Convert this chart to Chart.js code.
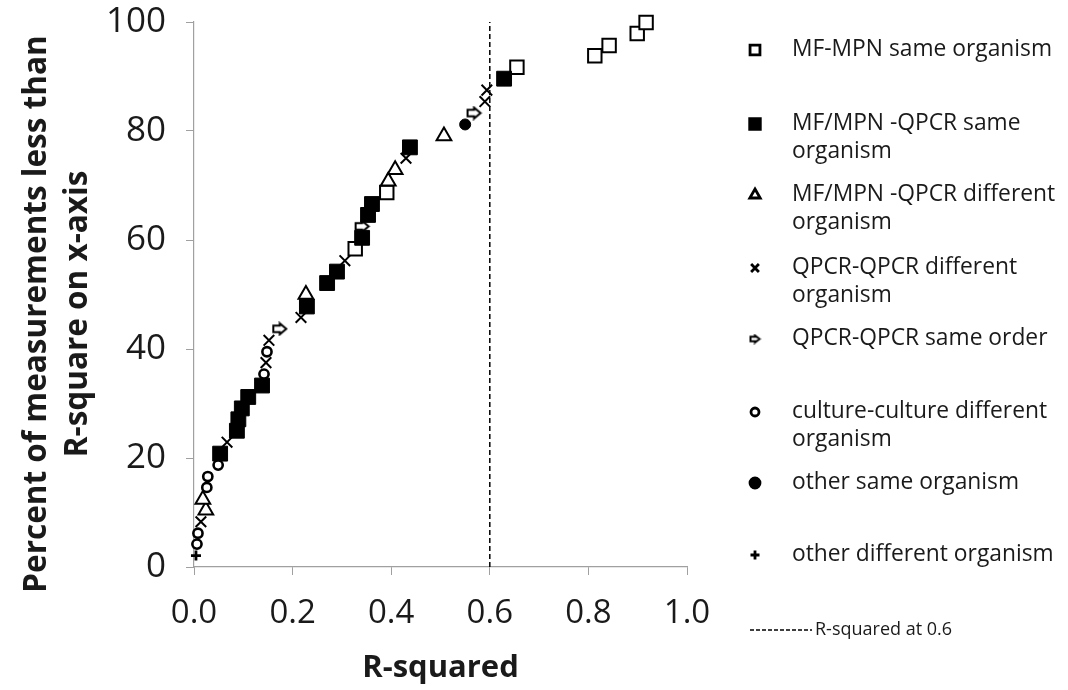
<!DOCTYPE html>
<html>
<head>
<meta charset="utf-8">
<script src="https://cdn.jsdelivr.net/npm/chart.js@4.4.1/dist/chart.umd.min.js"></script>
<style>
  html, body { margin: 0; padding: 0; background: #fff; }
  #wrap { position: relative; width: 1068px; height: 690px; }
</style>
</head>
<body>
<div id="wrap"><canvas id="chart" width="1068" height="690"></canvas></div>
<script>
// series names
const seriesNames = [
    'MF-MPN same organism',
    'MF/MPN -QPCR same organism',
    'MF/MPN -QPCR different organism',
    'QPCR-QPCR different organism',
    'QPCR-QPCR same order',
    'culture-culture different organism',
    'other same organism',
    'other different organism'
];

// R-squared (x) and percent (y)
const mfMpnSameX = [0.327, 0.391, 0.655, 0.813, 0.842, 0.899, 0.917];
const mfMpnSameY = [58.4, 68.7, 91.7, 93.8, 95.7, 97.9, 99.9];

const qpcrSameX = [0.053, 0.087, 0.090, 0.097, 0.110, 0.138, 0.229, 0.270, 0.290, 0.341, 0.353, 0.361, 0.438, 0.629];
const qpcrSameY = [20.8, 25.0, 27.1, 29.1, 31.2, 33.3, 47.8, 52.1, 54.2, 60.4, 64.6, 66.6, 77.0, 89.6];

const qpcrDiffX = [0.024, 0.018, 0.227, 0.394, 0.408, 0.507];
const qpcrDiffY = [10.4, 12.4, 50.0, 70.8, 72.9, 79.1];

const qqDiffX = [0.014, 0.067, 0.146, 0.152, 0.217, 0.306, 0.430, 0.590, 0.594];
const qqDiffY = [8.3, 22.9, 37.5, 41.6, 45.8, 56.2, 75.0, 85.4, 87.5];

const qqOrderX = [0.174, 0.341, 0.568];
const qqOrderY = [43.7, 62.5, 83.3];

const cultureX = [0.006, 0.008, 0.026, 0.028, 0.049, 0.142, 0.148];
const cultureY = [4.2, 6.2, 14.6, 16.6, 18.7, 35.4, 39.5];

const otherSameX = [0.550];
const otherSameY = [81.2];

const otherDiffX = [0.004];
const otherDiffY = [2.1];

const thresholdX = [0.6, 0.6];
const thresholdY = [0, 100];

const xTicks = [0, 0.2, 0.4, 0.6, 0.8, 1.0];
const yTicks = [0, 20, 40, 60, 80, 100];

function pts(xs, ys) {
    return xs.map((x, i) => ({ x: x, y: ys[i] }));
}

// hollow right arrow marker
function makeArrow(w, h, lw) {
    const c = document.createElement('canvas');
    c.width = w; c.height = h;
    const g = c.getContext('2d');
    const m = lw;
    const midY = h / 2;
    const shaftH = h * 0.42;
    const headX = w * 0.5;
    g.beginPath();
    g.moveTo(m, midY - shaftH / 2);
    g.lineTo(headX, midY - shaftH / 2);
    g.lineTo(headX, m);
    g.lineTo(w - m, midY);
    g.lineTo(headX, h - m);
    g.lineTo(headX, midY + shaftH / 2);
    g.lineTo(m, midY + shaftH / 2);
    g.closePath();
    g.fillStyle = '#fff';
    g.fill();
    g.lineWidth = lw;
    g.strokeStyle = '#000';
    g.lineJoin = 'miter';
    g.stroke();
    return c;
}

const arrowBig = makeArrow(17, 15, 2);
const arrowSmall = makeArrow(13, 11, 2);

const markerStyles = [
    { pointStyle: 'rect', radius: 9.5, bg: '#fff', bw: 2, lr: 7, lbw: 2 },
    { pointStyle: 'rect', radius: 10.5, bg: '#000', bw: 1, lr: 7.5, lbw: 1 },
    { pointStyle: 'triangle', radius: 8.5, bg: '#fff', bw: 2, lr: 6, lbw: 2 },
    { pointStyle: 'crossRot', radius: 7.5, bg: '#000', bw: 2, lr: 5.5, lbw: 2.4 },
    { pointStyle: arrowBig, legendStyle: arrowSmall, radius: 8, bg: '#fff', bw: 2, lr: 5, lbw: 2 },
    { pointStyle: 'circle', radius: 4.6, bg: '#fff', bw: 2.6, lr: 4, lbw: 2.6 },
    { pointStyle: 'circle', radius: 5.5, bg: '#000', bw: 1, lr: 5, lbw: 1 },
    { pointStyle: 'cross', radius: 5, bg: '#000', bw: 2.8, lr: 4.5, lbw: 2.8 }
];

const seriesData = [
    pts(mfMpnSameX, mfMpnSameY),
    pts(qpcrSameX, qpcrSameY),
    pts(qpcrDiffX, qpcrDiffY),
    pts(qqDiffX, qqDiffY),
    pts(qqOrderX, qqOrderY),
    pts(cultureX, cultureY),
    pts(otherSameX, otherSameY),
    pts(otherDiffX, otherDiffY)
];

const datasets = seriesData.map((d, i) => ({
    label: seriesNames[i],
    data: d,
    pointStyle: markerStyles[i].pointStyle,
    pointRadius: markerStyles[i].radius,
    pointHoverRadius: markerStyles[i].radius,
    pointBackgroundColor: markerStyles[i].bg,
    pointBorderColor: '#000',
    pointBorderWidth: markerStyles[i].bw,
    showLine: false,
    clip: false,
    order: 10 - i
}));

datasets.push({
    label: 'R-squared at 0.6',
    data: pts(thresholdX, thresholdY),
    showLine: true,
    borderColor: '#000',
    borderWidth: 1.5,
    borderDash: [5, 3],
    pointRadius: 0,
    order: 20
});

const FONT = "'Open Sans', sans-serif";
const TXT = '#1a1a1a';

// legend layout (label lines + vertical position of first line)
const legendRows = [
    { lines: ['MF-MPN same organism'], y: 50 },
    { lines: ['MF/MPN -QPCR same', 'organism'], y: 124 },
    { lines: ['MF/MPN -QPCR different', 'organism'], y: 195 },
    { lines: ['QPCR-QPCR different', 'organism'], y: 268 },
    { lines: ['QPCR-QPCR same order'], y: 339 },
    { lines: ['culture-culture different', 'organism'], y: 412 },
    { lines: ['other same organism'], y: 483 },
    { lines: ['other different organism'], y: 555 }
];

const sideLegend = {
    id: 'sideLegend',
    afterDraw(chart) {
        const ctx = chart.ctx;
        ctx.save();
        ctx.font = '22.8px ' + FONT;
        ctx.fillStyle = TXT;
        ctx.textBaseline = 'middle';
        ctx.textAlign = 'left';
        legendRows.forEach((row, i) => {
            const st = markerStyles[i];
            ctx.save();
            ctx.fillStyle = st.bg;
            ctx.strokeStyle = '#000';
            Chart.helpers.drawPoint(ctx, {
                pointStyle: st.legendStyle || st.pointStyle,
                radius: st.lr,
                rotation: 0,
                borderWidth: st.lbw
            }, 755, row.y);
            ctx.restore();
            row.lines.forEach((t, k) => {
                ctx.fillText(t, 792, row.y + k * 28);
            });
        });
        // threshold line entry
        ctx.beginPath();
        ctx.setLineDash([4, 2]);
        ctx.lineWidth = 1.3;
        ctx.strokeStyle = '#000';
        ctx.moveTo(750, 630);
        ctx.lineTo(812, 630);
        ctx.stroke();
        ctx.setLineDash([]);
        ctx.font = '18px ' + FONT;
        ctx.fillText('R-squared at 0.6', 815, 630);
        // y axis title, two rotated lines
        ctx.save();
        ctx.translate(0, 314);
        ctx.rotate(-Math.PI / 2);
        ctx.textAlign = 'center';
        ctx.font = 'bold 31.5px ' + FONT;
        ctx.fillText('Percent of measurements less than', 0, 37);
        ctx.fillText('R-square on x-axis', 0, 78);
        ctx.restore();
        ctx.restore();
    }
};

new Chart(document.getElementById('chart'), {
    type: 'scatter',
    data: { datasets: datasets },
    options: {
        responsive: false,
        animation: false,
        layout: { padding: { top: 22, right: 381, bottom: 3, left: 0 } },
        plugins: {
            legend: { display: false },
            tooltip: { enabled: false }
        },
        scales: {
            x: {
                type: 'linear',
                min: 0,
                max: 1,
                afterBuildTicks: s => { s.ticks = xTicks.map(v => ({ value: v })); },
                afterFit: s => { s.height = 690 - 567 - 3; },
                ticks: {
                    autoSkip: false,
                    maxRotation: 0,
                    padding: 19,
                    color: TXT,
                    font: { family: FONT, size: 33 },
                    callback: v => Number(v).toFixed(1)
                },
                grid: { drawOnChartArea: false, drawTicks: true, tickLength: 8, color: '#a0a0a0' },
                border: { color: '#a0a0a0', width: 1.2 },
                title: {
                    display: true,
                    text: 'R-squared',
                    color: TXT,
                    font: { family: FONT, size: 31, weight: 'bold' },
                    padding: { top: 0, bottom: 0 }
                }
            },
            y: {
                type: 'linear',
                min: 0,
                max: 100,
                afterBuildTicks: s => { s.ticks = yTicks.map(v => ({ value: v })); },
                afterFit: s => {
                    s.width = 194;
                    s.paddingTop = 0;
                    s.paddingBottom = 0;
                },
                ticks: {
                    autoSkip: false,
                    padding: 20,
                    color: TXT,
                    font: { family: FONT, size: 35 }
                },
                grid: { drawOnChartArea: false, drawTicks: true, tickLength: 8, color: '#a0a0a0' },
                border: { color: '#a0a0a0', width: 1.2 },
                title: { display: false }
            }
        }
    },
    plugins: [sideLegend]
});
</script>
</body>
</html>
